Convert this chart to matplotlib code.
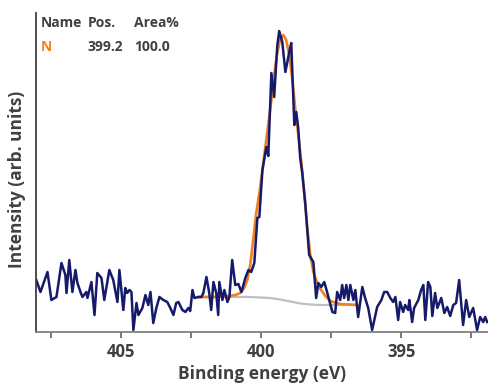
import numpy as np
import matplotlib.pyplot as plt

# XPS N 1s spectrum (arbitrary units)
energy = [408.04, 407.89, 407.64, 407.50, 407.32, 407.14, 407.00, 406.96, 406.86, 406.75,
          406.64, 406.57, 406.46, 406.39, 406.25, 406.21, 406.07, 405.96, 405.86, 405.71,
          405.61, 405.43, 405.29, 405.14, 405.07, 404.93, 404.86, 404.79, 404.71, 404.64,
          404.57, 404.46, 404.39, 404.25, 404.14, 404.04, 403.96, 403.86, 403.75, 403.64,
          403.50, 403.36, 403.25, 403.14, 403.04, 402.96, 402.82, 402.71, 402.61, 402.54,
          402.46, 402.39, 402.25, 402.14, 402.07, 401.96, 401.86, 401.79, 401.71, 401.61,
          401.54, 401.50, 401.39, 401.32, 401.21, 401.14, 401.04, 400.93, 400.82, 400.71,
          400.57, 400.46, 400.36, 400.25, 400.14, 400.07, 399.96, 399.82, 399.75, 399.64,
          399.54, 399.43, 399.36, 399.25, 399.14, 399.00, 398.93, 398.82, 398.75, 398.68,
          398.61, 398.54, 398.43, 398.29, 398.14, 398.04, 397.96, 397.86, 397.75, 397.64,
          397.46, 397.36, 397.29, 397.18, 397.11, 397.04, 396.96, 396.89, 396.82, 396.71,
          396.64, 396.54, 396.39, 396.29, 396.18, 396.04, 395.86, 395.71, 395.61, 395.50,
          395.39, 395.29, 395.21, 395.11, 395.04, 394.93, 394.86, 394.75, 394.71, 394.61,
          394.54, 394.39, 394.29, 394.21, 394.14, 394.04, 393.96, 393.89, 393.79, 393.71,
          393.57, 393.46, 393.36, 393.25, 393.14, 393.04, 392.93, 392.79, 392.68, 392.57,
          392.43, 392.29, 392.18, 392.07, 392.00, 391.93]
intensity = [52, 40, 60, 32, 35, 69, 57, 39, 72, 40,
             62, 49, 40, 35, 40, 34, 50, 17, 59, 54,
             32, 62, 52, 30, 62, 22, 44, 39, 42, 40,
             2, 29, 17, 24, 37, 27, 40, 9, 24, 35,
             32, 30, 24, 17, 29, 30, 22, 20, 24, 21,
             42, 34, 35, 35, 39, 55, 39, 22, 50, 39,
             17, 50, 32, 42, 30, 35, 72, 47, 48, 40,
             54, 62, 60, 69, 114, 115, 162, 185, 176, 259,
             235, 286, 301, 290, 260, 280, 289, 207, 220, 204,
             174, 160, 129, 77, 70, 34, 49, 45, 50, 39,
             20, 19, 40, 32, 47, 34, 47, 32, 47, 32,
             42, 15, 45, 34, 24, 2, 25, 32, 40, 40,
             34, 30, 35, 12, 30, 20, 27, 22, 32, 10,
             24, 32, 42, 47, 12, 50, 45, 16, 39, 24,
             34, 19, 25, 16, 27, 29, 52, 7, 32, 15,
             24, 2, 15, 10, 15, 10]

# fitted N component
fit_energy = [402.25, 401.64, 401.18, 400.93, 400.75, 400.61, 400.50, 400.39, 400.29, 400.18,
              400.07, 399.96, 399.86, 399.75, 399.64, 399.54, 399.43, 399.32, 399.21, 399.11,
              399.00, 398.89, 398.79, 398.68, 398.57, 398.46, 398.36, 398.25, 398.14, 398.00,
              397.89, 397.71, 397.54, 397.18, 396.57]
fit_intensity = [35, 35, 36, 37, 39, 44, 52, 68, 92, 119,
                 139, 162, 184, 208, 232, 257, 279, 293, 297, 292,
                 277, 252, 224, 197, 170, 137, 105, 77, 60, 49,
                 43, 36, 31, 28, 27]

# background
bg_energy = [402.25, 400.39, 400.04, 399.68, 399.32, 398.96, 398.61, 398.25, 397.89, 396.57]
bg_intensity = [35, 35, 34.5, 34, 32.5, 30.5, 28.5, 27.5, 27, 27]

plt.rcParams['font.family'] = ['Open Sans', 'DejaVu Sans']
txt = '#404040'

fig = plt.figure(figsize=(4.88, 3.85), dpi=100)
ax = fig.add_axes([36 / 488, 53 / 385, 452 / 488, 319 / 385])

ax.plot(bg_energy, bg_intensity, color='#bfbfbf', lw=1.6)
ax.plot(fit_energy, fit_intensity, color='#f08020', lw=1.9)
ax.plot(energy, intensity, color='#151a6a', lw=1.8)

ax.set_xlim(408.05, 391.9)
ax.set_ylim(0, 319)
ax.set_xticks([405, 400, 395])
ax.set_xticks([407.5, 402.5, 397.5, 392.5], minor=True)
ax.set_yticks([])
ax.tick_params(axis='x', which='both', length=4, width=1.2, color='#606060',
               labelsize=12, labelcolor=txt, pad=4)
for lab in ax.get_xticklabels():
    lab.set_fontweight('bold')

for s in ['top', 'right']:
    ax.spines[s].set_visible(False)
ax.spines['bottom'].set_color('#808080')
ax.spines['left'].set_color('#404040')
ax.spines['bottom'].set_linewidth(1.3)
ax.spines['left'].set_linewidth(1.3)

ax.set_xlabel('Binding energy (eV)', fontsize=12.5, fontweight='bold', color=txt, labelpad=3)
ax.set_ylabel('Intensity (arb. units)', fontsize=12.5, fontweight='bold', color=txt)
ax.yaxis.set_label_coords(-0.022, 0.48)

# table at top left
fs = 10
ax.text(0.011, 0.99, 'Name', transform=ax.transAxes, fontsize=fs, fontweight='bold', color=txt, va='top')
ax.text(0.115, 0.99, 'Pos.', transform=ax.transAxes, fontsize=fs, fontweight='bold', color=txt, va='top')
ax.text(0.217, 0.99, 'Area%', transform=ax.transAxes, fontsize=fs, fontweight='bold', color=txt, va='top')
ax.text(0.011, 0.915, 'N', transform=ax.transAxes, fontsize=fs, fontweight='bold', color='#f08020', va='top')
ax.text(0.115, 0.915, '399.2', transform=ax.transAxes, fontsize=fs, fontweight='bold', color=txt, va='top')
ax.text(0.217, 0.915, '100.0', transform=ax.transAxes, fontsize=fs, fontweight='bold', color=txt, va='top')

plt.savefig('out.png', dpi=100)
